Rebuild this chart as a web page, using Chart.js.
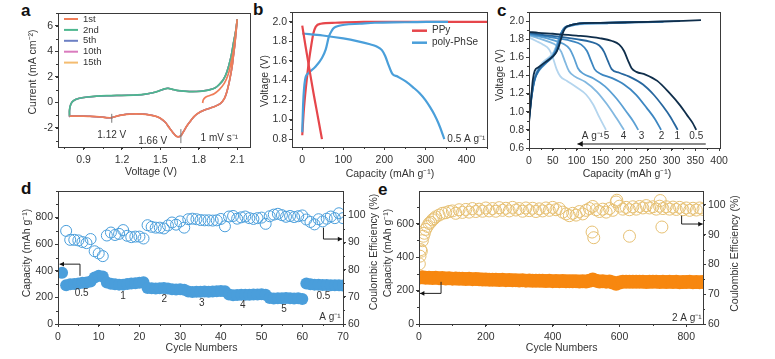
<!DOCTYPE html>
<html>
<head>
<meta charset="utf-8">
<script src="https://cdn.jsdelivr.net/npm/chart.js@4.4.1/dist/chart.umd.min.js"></script>
<style>
	body { margin: 0; width: 775px; height: 359px; position: relative; overflow: hidden; background: #fff; }
	canvas { position: absolute; }
	.tag { position: absolute; font: bold 17px 'Liberation Sans', Arial, sans-serif; line-height: 17px; color: #111; }
</style>
</head>
<body>
<div class="tag" style="left:21px;top:2px">a</div>
<div class="tag" style="left:253px;top:1px">b</div>
<div class="tag" style="left:497px;top:2px">c</div>
<div class="tag" style="left:21px;top:180px">d</div>
<div class="tag" style="left:378px;top:181px">e</div>
<canvas id="pa"></canvas>
<canvas id="pb"></canvas>
<canvas id="pc"></canvas>
<canvas id="pd"></canvas>
<canvas id="pe"></canvas>
<script>
"use strict";

// ---------- data ----------

// (a) CV, voltage (V) / current (mA cm-2)
const cvStartV     = [1.83, 1.835, 1.85, 1.88, 1.92, 1.96, 2.00, 2.03, 2.05, 2.07, 2.085, 2.10]
const cvStartI     = [-0.05, 0.2, 0.38, 0.52, 0.68, 1.0, 1.5, 2.2, 3.0, 4.0, 5.2, 6.5]
const cvCathodicV  = [2.10, 2.09, 2.08, 2.07, 2.06, 2.04, 2.02, 2.00, 1.97, 1.93, 1.88, 1.84, 1.80, 1.77, 1.74, 1.71, 1.68, 1.66, 1.64, 1.62, 1.60, 1.57, 1.54, 1.50, 1.46, 1.41, 1.36, 1.31, 1.26, 1.21, 1.16, 1.12, 1.08, 1.04, 1.00, 0.95, 0.90, 0.85, 0.80, 0.79]
const cvCathodicI  = [6.5, 5.4, 4.4, 3.6, 2.8, 1.7, 0.85, 0.3, -0.08, -0.3, -0.48, -0.62, -0.82, -1.05, -1.4, -1.8, -2.3, -2.62, -2.7, -2.62, -2.4, -2.0, -1.58, -1.25, -1.08, -0.98, -0.92, -0.9, -0.92, -0.98, -1.08, -1.2, -1.2, -1.15, -1.12, -1.1, -1.08, -1.08, -1.08, -1.08]
const cvAnodicV    = [0.79, 0.79, 0.80, 0.82, 0.86, 0.93, 1.00, 1.08, 1.16, 1.24, 1.32, 1.38, 1.44, 1.49, 1.53, 1.56, 1.59, 1.63, 1.70, 1.78, 1.84, 1.89, 1.93, 1.96, 1.99, 2.02, 2.05, 2.07, 2.09, 2.10]
const cvAnodicI    = [-1.1, -0.6, -0.15, 0.12, 0.3, 0.42, 0.48, 0.52, 0.54, 0.55, 0.58, 0.64, 0.75, 0.9, 1.05, 1.1, 1.03, 0.93, 0.86, 0.85, 0.9, 1.0, 1.15, 1.4, 1.75, 2.4, 3.5, 4.6, 5.7, 6.5]
const cvCycles     = ['1st', '2nd', '5th', '10th', '15th']
const aTicksX      = [0.9, 1.2, 1.5, 1.8, 2.1]
const aTicksY      = [-2, 0, 2, 4, 6]

// (b) charge/discharge at 0.5 A g-1, capacity (mAh g-1) / voltage (V)
const ppyDisCap    = [0, 3, 8, 14, 20, 27, 34, 41, 48]
const ppyDisV      = [1.96, 1.88, 1.75, 1.60, 1.45, 1.28, 1.12, 0.96, 0.80]
const ppyChgCap    = [0, 3, 7, 12, 17, 22, 27, 33, 45, 80, 150, 300, 450]
const ppyChgV      = [0.84, 1.05, 1.25, 1.45, 1.62, 1.76, 1.88, 1.95, 1.98, 1.99, 2.0, 2.0, 2.0]
const phseDisCap   = [0, 50, 100, 136, 165, 180, 194, 202, 210, 219, 232, 252, 270, 286, 300, 311, 322, 332, 342, 346]
const phseDisV     = [1.88, 1.86, 1.83, 1.80, 1.77, 1.75, 1.71, 1.65, 1.56, 1.47, 1.44, 1.39, 1.33, 1.27, 1.20, 1.13, 1.05, 0.96, 0.85, 0.80]
const phseChgCap   = [0, 2, 7, 15, 32, 48, 57, 65, 72, 78, 90, 103, 140, 177, 250, 302, 355]
const phseChgV     = [0.87, 1.15, 1.41, 1.475, 1.54, 1.63, 1.715, 1.85, 1.91, 1.94, 1.96, 1.97, 1.98, 1.99, 1.995, 2.0, 2.0]
const bTicksX      = [0, 100, 200, 300, 400]
const bTicksY      = [0.8, 1.0, 1.2, 1.4, 1.6, 1.8, 2.0]

// (c) rate curves, one row per current density
const cRates       = ['0.5', '1', '2', '3', '4', '5']
const cDisCap = [
	[0, 20, 50, 100, 150, 175, 190, 200, 208, 216, 226, 245, 270, 295, 318, 333, 344, 352],
	[0, 25, 60, 100, 130, 148, 158, 166, 174, 190, 210, 240, 262, 282, 298, 313],
	[0, 25, 60, 90, 110, 122, 130, 138, 150, 175, 200, 225, 248, 265, 278],
	[0, 20, 50, 72, 86, 95, 103, 114, 135, 160, 185, 205, 220, 230],
	[0, 20, 42, 58, 68, 76, 84, 96, 118, 143, 163, 184, 200],
	[0, 15, 30, 42, 50, 58, 66, 80, 100, 120, 135, 148, 162]
]
const cDisV = [
	[1.88, 1.87, 1.86, 1.84, 1.81, 1.78, 1.74, 1.67, 1.57, 1.48, 1.44, 1.41, 1.34, 1.21, 1.07, 0.96, 0.88, 0.80],
	[1.87, 1.85, 1.83, 1.80, 1.77, 1.73, 1.66, 1.56, 1.47, 1.43, 1.39, 1.30, 1.19, 1.06, 0.94, 0.80],
	[1.86, 1.84, 1.81, 1.78, 1.74, 1.67, 1.57, 1.47, 1.42, 1.37, 1.30, 1.19, 1.04, 0.92, 0.80],
	[1.85, 1.83, 1.79, 1.75, 1.69, 1.59, 1.48, 1.42, 1.37, 1.28, 1.14, 1.00, 0.89, 0.80],
	[1.84, 1.81, 1.77, 1.73, 1.66, 1.55, 1.45, 1.39, 1.33, 1.22, 1.09, 0.93, 0.80],
	[1.82, 1.78, 1.74, 1.69, 1.60, 1.47, 1.39, 1.34, 1.27, 1.19, 1.08, 0.94, 0.80]
]
const cChgCap = [
	[0, 3, 8, 12, 20, 35, 50, 58, 64, 70, 76, 85, 100, 150, 250, 362],
	[0, 4, 10, 18, 30, 45, 55, 62, 68, 75, 85, 100, 150, 250, 318],
	[0, 5, 12, 22, 35, 48, 56, 62, 68, 75, 85, 100, 150, 283],
	[0, 6, 14, 25, 38, 50, 57, 63, 70, 78, 90, 110, 160, 235],
	[0, 6, 15, 28, 40, 50, 57, 64, 72, 80, 95, 120, 205],
	[0, 7, 17, 30, 42, 52, 60, 68, 76, 85, 100, 166]
]
const cChgV = [
	[0.88, 1.05, 1.35, 1.45, 1.49, 1.55, 1.61, 1.66, 1.74, 1.85, 1.92, 1.95, 1.97, 1.98, 1.99, 2.01],
	[0.90, 1.10, 1.32, 1.44, 1.52, 1.58, 1.64, 1.72, 1.84, 1.92, 1.95, 1.97, 1.98, 1.99, 2.00],
	[0.92, 1.15, 1.35, 1.46, 1.53, 1.60, 1.67, 1.76, 1.87, 1.93, 1.95, 1.97, 1.98, 1.99],
	[0.94, 1.20, 1.40, 1.50, 1.56, 1.62, 1.69, 1.79, 1.89, 1.93, 1.95, 1.97, 1.98, 1.99],
	[0.96, 1.22, 1.42, 1.52, 1.58, 1.63, 1.71, 1.83, 1.90, 1.94, 1.96, 1.97, 1.98],
	[0.98, 1.25, 1.45, 1.55, 1.60, 1.66, 1.76, 1.87, 1.92, 1.94, 1.96, 1.97]
]
const cTicksX      = [0, 50, 100, 150, 200, 250, 300, 350, 400]
const cTicksY      = [0.6, 0.8, 1.0, 1.2, 1.4, 1.6, 1.8, 2.0]

// (d) rate cycling
const dCycles   = [1, 2, 3, 4, 5, 6, 7, 8, 9, 10, 11, 12, 13, 14, 15, 16, 17, 18, 19, 20, 21, 22, 23, 24, 25, 26, 27, 28, 29, 30, 31, 32, 33, 34, 35, 36, 37, 38, 39, 40, 41, 42, 43, 44, 45, 46, 47, 48, 49, 50, 51, 52, 53, 54, 55, 56, 57, 58, 59, 60, 61, 62, 63, 64, 65, 66, 67, 68, 69, 70]
const dCapacity = [385, 292, 298, 300, 305, 310, 312, 320, 350, 362, 358, 312, 302, 298, 296, 296, 300, 304, 306, 310, 314, 270, 268, 266, 268, 270, 266, 262, 260, 262, 258, 245, 240, 242, 243, 244, 243, 245, 246, 248, 246, 222, 216, 218, 219, 220, 219, 221, 222, 223, 220, 196, 192, 193, 194, 195, 193, 192, 194, 188, 305, 298, 296, 295, 294, 293, 292, 292, 291, 290]
// efficiency starts at cycle 2
const dCE       = [94.3, 91.0, 91.0, 90.8, 90.2, 89.8, 91.3, 86.8, 86.0, 85.0, 92.6, 93.7, 92.8, 93.2, 94.6, 92.5, 92.0, 92.2, 92.2, 91.5, 96.4, 95.8, 95.5, 95.5, 95.2, 96.3, 97.4, 96.6, 97.8, 95.5, 98.6, 98.8, 98.6, 98.3, 98.2, 98.2, 98.1, 98.2, 98.7, 96.0, 99.6, 99.8, 98.8, 99.3, 99.6, 99.0, 98.7, 99.0, 99.2, 96.9, 99.7, 100.3, 100.6, 100.1, 99.5, 99.8, 99.4, 99.7, 100.0, 98.5, 97.6, 96.7, 98.6, 97.8, 98.8, 99.6, 99.0, 100.8, 99.0]
const dRateLabels = ['0.5', '1', '2', '3', '4', '5', '0.5']
const dTicksX   = [0, 10, 20, 30, 40, 50, 60, 70]
const dTicksCap = [0, 200, 400, 600, 800]
const dTicksCE  = [60, 70, 80, 90, 100]

// (e) long cycling at 2 A g-1 (every 10th cycle)
const eCycles   = [0, 10, 20, 30, 40, 50, 60, 70, 80, 90, 100, 110, 120, 130, 140, 150, 160, 170, 180, 190, 200, 210, 220, 230, 240, 250, 260, 270, 280, 290, 300, 310, 320, 330, 340, 350, 360, 370, 380, 390, 400, 410, 420, 430, 440, 450, 460, 470, 480, 490, 500, 510, 520, 530, 540, 550, 560, 570, 580, 590, 600, 610, 620, 630, 640, 650, 660, 670, 680, 690, 700, 710, 720, 730, 740, 750, 760, 770, 780, 790, 800, 810, 820, 830, 840, 850]
const eCapacity = [277, 279, 276, 277, 275, 276, 274, 275, 272, 273, 271, 272, 270, 271, 269, 270, 268, 269, 267, 266, 266, 265, 264, 265, 263, 264, 262, 263, 261, 262, 260, 261, 259, 260, 258, 259, 258, 258, 257, 258, 256, 257, 256, 257, 255, 256, 255, 256, 254, 255, 254, 258, 266, 259, 254, 255, 253, 254, 248, 241, 248, 253, 252, 253, 252, 253, 252, 253, 251, 252, 252, 253, 251, 252, 251, 252, 251, 252, 250, 251, 251, 252, 250, 251, 250, 251]
const eCE       = [null, 88.0, 91.8, 93.8, 95.0, 96.0, 96.6, 97.2, 97.4, 97.8, 98.0, 97.2, 98.4, 97.5, 98.5, 97.6, 98.8, 97.8, 98.6, 97.9, 99.0, 98.0, 98.8, 97.9, 99.1, 98.2, 98.9, 98.0, 99.2, 98.3, 98.8, 97.9, 99.0, 98.1, 98.9, 97.8, 98.7, 98.0, 99.0, 98.2, 99.2, 98.4, 98.8, 97.6, 97.0, 96.4, 97.2, 96.6, 97.8, 97.0, 98.2, 98.8, 99.5, 98.4, 97.8, 98.6, 97.6, 98.8, 98.2, 101.0, 99.6, 98.6, 99.2, 98.4, 99.4, 98.6, 99.5, 99.0, 99.8, 99.0, 99.4, 98.6, 99.6, 98.8, 99.4, 98.6, 99.3, 98.5, 99.2, 98.4, 99.0, 98.2, 98.9, 98.3, 99.0, 98.5]
const eCEExtraCycles = [1, 3, 5, 7, 13, 16, 25, 35, 45, 518, 523, 592, 630, 722, 727]
const eCEExtra       = [80.2, 82.8, 85.0, 84.5, 89.5, 90.5, 92.8, 94.2, 95.4, 90.9, 89.0, 101.6, 89.5, 101.5, 92.6]
const eTicksX   = [0, 200, 400, 600, 800]
const eTicksCap = [0, 200, 400, 600]
const eTicksCE  = [60, 70, 80, 90, 100]

// ---------- style ----------

const FONT  = "'Liberation Sans', Arial, Helvetica, sans-serif"
const FRAME = '#3a3a3a'
const TEXT  = '#333'
const A_COLORS = ['#EF7D58', '#4DB78F', '#6D80C4', '#DA7BBE', '#F4BC70']
const B_COLORS = { ppy: '#E6464B', phse: '#4A9FDA' }
const C_COLORS = ['#0F2E4B', '#27679F', '#3C86C1', '#5BA0D4', '#82B8E0', '#B4D5EE']
const D_COLOR  = '#4A9EDB'
const E_CAP    = '#F7870F'
const E_CE     = '#E6C073'

Chart.defaults.font.family = FONT
Chart.defaults.font.size = 10.5
Chart.defaults.color = TEXT
Chart.defaults.animation = false

const xy = (xs, ys) => xs.map((x, i) => ({ x: x, y: ys[i] }))

function place(id, area, pad) {
	const cv = document.getElementById(id)
	cv.width  = area.r - area.l + pad.l + pad.r
	cv.height = area.b - area.t + pad.t + pad.b
	cv.style.left = (area.l - pad.l) + 'px'
	cv.style.top  = (area.t - pad.t) + 'px'
	return cv
}

// linear axis with fixed box size and given tick values
function axis(pos, min, max, tickValues, size) {
	return {
		type		: 'linear',
		position	: pos,
		min			: min,
		max			: max,
		border		: { display: false },
		grid		: { drawOnChartArea: false, drawTicks: true, tickLength: 3, color: FRAME, tickColor: FRAME, lineWidth: 1 },
		ticks		: { padding: pos === 'bottom' ? 4 : 2, color: TEXT, font: { size: 10.5 }, maxRotation: 0, autoSkip: false },
		afterBuildTicks : function(scale) {
			scale.ticks = tickValues.map(v => ({ value: v }))
		},
		afterFit	: function(scale) {
			if (scale.isHorizontal()) scale.height = size
			else scale.width = size
		}
	}
}

function arrow_head(ctx, x0, y0, x1, y1, size) {
	const ang = Math.atan2(y1 - y0, x1 - x0)
	ctx.beginPath()
	ctx.moveTo(x1, y1)
	ctx.lineTo(x1 - size * Math.cos(ang - 0.5), y1 - size * Math.sin(ang - 0.5))
	ctx.lineTo(x1 - size * Math.cos(ang + 0.5), y1 - size * Math.sin(ang + 0.5))
	ctx.closePath()
	ctx.fill()
}

// frame, minor ticks, titles, legend and labels, all placed through the chart scales
function decor(cfg) {
	return {
		id : 'decor',
		afterDraw : function(chart) {
			const ctx = chart.ctx
			const a   = chart.chartArea
			const px  = v => chart.scales.x.getPixelForValue(v)
			const py  = (v, id) => chart.scales[id || 'y'].getPixelForValue(v)
			ctx.save()

			// minor ticks
			ctx.strokeStyle = FRAME
			ctx.lineWidth = 1
			;(cfg.minor || []).forEach(m => {
				const sc = chart.scales[m.id]
				ctx.beginPath()
				for (let k = Math.ceil(sc.min / m.step - 1e-6); k * m.step <= sc.max + 1e-6; k++) {
					const p = Math.round(sc.getPixelForValue(k * m.step)) + 0.5
					if (sc.position === 'bottom') { ctx.moveTo(p, a.bottom); ctx.lineTo(p, a.bottom + 2) }
					else if (sc.position === 'left') { ctx.moveTo(a.left, p); ctx.lineTo(a.left - 2, p) }
					else { ctx.moveTo(a.right, p); ctx.lineTo(a.right + 2, p) }
				}
				ctx.stroke()
			})

			// frame
			const l = Math.round(a.left) + 0.5, t = Math.round(a.top) + 0.5
			ctx.strokeRect(l, t, Math.round(a.right) - Math.round(a.left), Math.round(a.bottom) - Math.round(a.top))

			// lines and arrows in data units
			;(cfg.lines || []).forEach(ln => {
				const pts = ln.pts.map(p => [px(p[0]), py(p[1], ln.axis)])
				ctx.strokeStyle = ln.color || '#222'
				ctx.lineWidth = ln.width || 1
				ctx.beginPath()
				pts.forEach((p, i) => i ? ctx.lineTo(p[0], p[1]) : ctx.moveTo(p[0], p[1]))
				ctx.stroke()
				if (ln.arrow) {
					const n = pts.length
					ctx.fillStyle = ln.head || '#111'
					arrow_head(ctx, pts[n - 2][0], pts[n - 2][1], pts[n - 1][0], pts[n - 1][1], ln.arrow)
				}
			})

			// labels in data units
			ctx.textBaseline = 'middle'
			;(cfg.texts || []).forEach(tx => {
				ctx.font = (tx.size || 10) + 'px ' + FONT
				ctx.fillStyle = tx.color || TEXT
				ctx.textAlign = tx.align || 'center'
				ctx.fillText(tx.text, px(tx.x), py(tx.y, tx.axis))
			})

			// legend from dataset labels and colours
			if (cfg.legend) {
				const lg = cfg.legend
				const x0 = a.left + lg.x
				ctx.font = lg.size + 'px ' + FONT
				ctx.textAlign = 'left'
				lg.datasets.forEach((di, i) => {
					const ds = chart.data.datasets[di]
					const y = a.top + lg.y + i * lg.dy
					ctx.strokeStyle = ds.borderColor
					ctx.lineWidth = lg.lw
					ctx.beginPath(); ctx.moveTo(x0, y); ctx.lineTo(x0 + lg.len, y); ctx.stroke()
					ctx.fillStyle = TEXT
					ctx.fillText(ds.label, x0 + lg.len + lg.gap, y)
				})
			}

			// axis titles
			ctx.font = '10.5px ' + FONT
			ctx.fillStyle = TEXT
			ctx.textAlign = 'center'
			;(cfg.titles || []).forEach(ti => {
				const x = (ti.side === 'right' ? a.right : a.left) + ti.dx
				const y = (ti.side === 'bottom' ? a.bottom : a.top) + ti.dy
				ctx.save()
				ctx.translate(x, y)
				if (ti.side !== 'bottom') ctx.rotate(-Math.PI / 2)
				ctx.fillText(ti.text, 0, 0)
				ctx.restore()
			})
			ctx.restore()
		}
	}
}

function base_options(pad, scales, hasRight) {
	return {
		responsive	: false,
		animation	: false,
		layout		: { padding: { top: pad.t, right: hasRight ? 0 : pad.r, left: 0, bottom: 0 } },
		plugins		: { legend: { display: false }, tooltip: { enabled: false } },
		scales		: scales
	}
}

function line_set(label, xs, ys, color, width, extra) {
	return Object.assign({
		label		: label,
		data		: xy(xs, ys),
		showLine	: true,
		borderColor	: color,
		borderWidth	: width,
		pointRadius	: 0,
		fill		: false
	}, extra || {})
}

// ---------- (a) ----------
{
	const area = { l: 58, t: 13, r: 250, b: 147 }, pad = { l: 34, t: 9, r: 5, b: 36 }
	const cv = place('pa', area, pad)
	const loopV = cvCathodicV.concat(cvAnodicV), loopI = cvCathodicI.concat(cvAnodicI)
	const smooth = { tension: 0.3 }
	new Chart(cv, {
		type : 'scatter',
		data : {
			datasets : [
				line_set(cvCycles[0], cvStartV.concat(cvCathodicV), cvStartI.concat(cvCathodicI), A_COLORS[0], 1.7, smooth),
				line_set(cvCycles[1], cvAnodicV, cvAnodicI, A_COLORS[1], 1.7, smooth),
				line_set(cvCycles[2], loopV, loopI, A_COLORS[2], 1.5, smooth),
				line_set(cvCycles[3], loopV, loopI, A_COLORS[3], 1.5, smooth),
				line_set(cvCycles[4], loopV, loopI, A_COLORS[4], 1.5, smooth)
			]
		},
		options : base_options(pad, {
			x : axis('bottom', 0.7, 2.2, aTicksX, pad.b),
			y : axis('left', -3.5, 7, aTicksY, pad.l)
		}),
		plugins : [decor({
			minor	: [{ id: 'x', step: 0.15 }, { id: 'y', step: 1 }],
			titles	: [
				{ side: 'left', text: 'Current (mA cm⁻²)', dx: -25, dy: 59 },
				{ side: 'bottom', text: 'Voltage (V)', dx: 93, dy: 25.5 }
			],
			legend	: { datasets: [0, 1, 2, 3, 4], x: 6, y: 6, dy: 10.9, len: 14, gap: 5, lw: 2, size: 9.5 },
			lines	: [
				{ pts: [[1.12, -0.9], [1.12, -1.6]], color: '#777', width: 1 },
				{ pts: [[1.66, -2.1], [1.66, -3.2]], color: '#777', width: 1 }
			],
			texts	: [
				{ x: 1.12, y: -2.55, text: '1.12 V' },
				{ x: 1.44, y: -3.05, text: '1.66 V' },
				{ x: 1.96, y: -2.78, text: '1 mV s⁻¹' }
			]
		})]
	})
}

// ---------- (b) ----------
{
	const area = { l: 292, t: 12, r: 487, b: 147 }, pad = { l: 36, t: 9, r: 6, b: 36 }
	const cv = place('pb', area, pad)
	const smooth = { cubicInterpolationMode: 'monotone' }
	new Chart(cv, {
		type : 'scatter',
		data : {
			datasets : [
				line_set('PPy', ppyDisCap, ppyDisV, B_COLORS.ppy, 2.2, smooth),
				line_set('poly-PhSe', phseDisCap, phseDisV, B_COLORS.phse, 2.2, smooth),
				line_set('poly-PhSe', phseChgCap, phseChgV, B_COLORS.phse, 2.2, smooth),
				line_set('PPy', ppyChgCap, ppyChgV, B_COLORS.ppy, 2.2, smooth)
			]
		},
		options : base_options(pad, {
			x : axis('bottom', -25, 450, bTicksX, pad.b),
			y : axis('left', 0.72, 2.1, bTicksY, pad.l)
		}),
		plugins : [decor({
			minor	: [{ id: 'x', step: 50 }, { id: 'y', step: 0.1 }],
			titles	: [
				{ side: 'left', text: 'Voltage (V)', dx: -27, dy: 69 },
				{ side: 'bottom', text: 'Capacity (mAh g⁻¹)', dx: 98, dy: 27 }
			],
			legend	: { datasets: [0, 1], x: 120, y: 18.7, dy: 12, len: 15, gap: 5, lw: 2.5, size: 10 },
			texts	: [{ x: 446, y: 0.8, text: '0.5 A g⁻¹', align: 'right' }]
		})]
	})
}

// ---------- (c) ----------
{
	const area = { l: 529, t: 12, r: 720, b: 148 }, pad = { l: 36, t: 9, r: 16, b: 36 }
	const cv = place('pc', area, pad)
	const smooth = { cubicInterpolationMode: 'monotone' }
	const sets = []
	cRates.forEach((r, i) => {
		sets.push(line_set(r, cDisCap[i], cDisV[i], C_COLORS[i], 1.8, smooth))
		sets.push(line_set(r, cChgCap[i], cChgV[i], C_COLORS[i], 1.8, smooth))
	})
	const labelV = 0.725
	new Chart(cv, {
		type : 'scatter',
		data : { datasets : sets },
		options : base_options(pad, {
			x : axis('bottom', 0, 402, cTicksX, pad.b),
			y : axis('left', 0.6, 2.1, cTicksY, pad.l)
		}),
		plugins : [decor({
			minor	: [{ id: 'x', step: 25 }, { id: 'y', step: 0.1 }],
			titles	: [
				{ side: 'left', text: 'Voltage (V)', dx: -29, dy: 63 },
				{ side: 'bottom', text: 'Capacity (mAh g⁻¹)', dx: 98, dy: 26 }
			],
			lines	: [{ pts: [[372, 0.645], [102, 0.645]], color: '#8a8a8a', width: 2, arrow: 6, head: '#111' }],
			texts	: [
				{ x: 156, y: labelV, text: 'A g⁻¹', align: 'right' },
				{ x: 163, y: labelV, text: cRates[5] },
				{ x: 199, y: labelV, text: cRates[4] },
				{ x: 237, y: labelV, text: cRates[3] },
				{ x: 279, y: labelV, text: cRates[2] },
				{ x: 312, y: labelV, text: cRates[1] },
				{ x: 352, y: labelV, text: cRates[0] }
			]
		})]
	})
}

// ---------- (d) ----------
{
	const area = { l: 58, t: 191, r: 343, b: 324 }, pad = { l: 40, t: 9, r: 42, b: 36 }
	const cv = place('pd', area, pad)
	new Chart(cv, {
		type : 'scatter',
		data : {
			datasets : [
				{ label: 'CE', data: xy(dCycles.slice(1), dCE), yAxisID: 'y2', pointRadius: 5.5, borderWidth: 1, borderColor: D_COLOR, backgroundColor: 'rgba(255,255,255,0)' },
				{ label: 'Capacity', data: xy(dCycles, dCapacity), yAxisID: 'y', pointRadius: 6, borderWidth: 0, backgroundColor: D_COLOR }
			]
		},
		options : base_options(pad, {
			x  : axis('bottom', 0, 70, dTicksX, pad.b),
			y  : axis('left', 0, 1000, dTicksCap, pad.l),
			y2 : axis('right', 60, 109, dTicksCE, pad.r)
		}, true),
		plugins : [decor({
			minor	: [{ id: 'x', step: 5 }, { id: 'y', step: 100 }, { id: 'y2', step: 5 }],
			titles	: [
				{ side: 'left', text: 'Capacity (mAh g⁻¹)', dx: -31, dy: 62 },
				{ side: 'right', text: 'Coulombic Efficiency (%)', dx: 31, dy: 61 },
				{ side: 'bottom', text: 'Cycle Numbers', dx: 143.5, dy: 24.3 }
			],
			lines	: [
				{ pts: [[5.4, 362], [5.4, 450], [0.4, 450]], width: 1, arrow: 5 },
				{ pts: [[65.2, 95.5], [65.2, 91.3], [69.8, 91.3]], axis: 'y2', width: 1, arrow: 5 }
			],
			texts	: [
				{ x: 5.8, y: 230, text: dRateLabels[0] },
				{ x: 16, y: 205, text: dRateLabels[1] },
				{ x: 26.1, y: 185, text: dRateLabels[2] },
				{ x: 35.3, y: 155, text: dRateLabels[3] },
				{ x: 45.4, y: 142, text: dRateLabels[4] },
				{ x: 55.5, y: 112, text: dRateLabels[5] },
				{ x: 65.2, y: 205, text: dRateLabels[6] },
				{ x: 69.4, y: 47, text: 'A g⁻¹', align: 'right' }
			]
		})]
	})
}

// ---------- (e) ----------
{
	const area = { l: 419, t: 191, r: 703, b: 324 }, pad = { l: 40, t: 9, r: 42, b: 36 }
	const cv = place('pe', area, pad)
	new Chart(cv, {
		type : 'scatter',
		data : {
			datasets : [
				{ label: 'CE', data: xy(eCycles.concat(eCEExtraCycles), eCE.concat(eCEExtra)), yAxisID: 'y2', pointRadius: 6, borderWidth: 1, borderColor: E_CE, backgroundColor: 'rgba(255,255,255,0)' },
				{ label: 'Capacity', data: xy(eCycles, eCapacity), yAxisID: 'y', pointRadius: 7, borderWidth: 0, backgroundColor: E_CAP }
			]
		},
		options : base_options(pad, {
			x  : axis('bottom', 0, 850, eTicksX, pad.b),
			y  : axis('left', 0, 795, eTicksCap, pad.l),
			y2 : axis('right', 60, 104.7, eTicksCE, pad.r)
		}, true),
		plugins : [decor({
			minor	: [{ id: 'x', step: 100 }, { id: 'y', step: 100 }, { id: 'y2', step: 5 }],
			titles	: [
				{ side: 'left', text: 'Capacity (mAh g⁻¹)', dx: -31, dy: 62 },
				{ side: 'right', text: 'Coulombic Efficiency (%)', dx: 32, dy: 62.5 },
				{ side: 'bottom', text: 'Cycle Numbers', dx: 142.7, dy: 24.3 }
			],
			lines	: [
				{ pts: [[66, 252], [66, 183], [3, 183]], width: 1, arrow: 5 },
				{ pts: [[786, 96.4], [786, 93.6], [849, 93.6]], axis: 'y2', width: 1, arrow: 5 }
			],
			texts	: [{ x: 846, y: 34, text: '2 A g⁻¹', align: 'right' }]
		})]
	})
}
</script>
</body>
</html>
